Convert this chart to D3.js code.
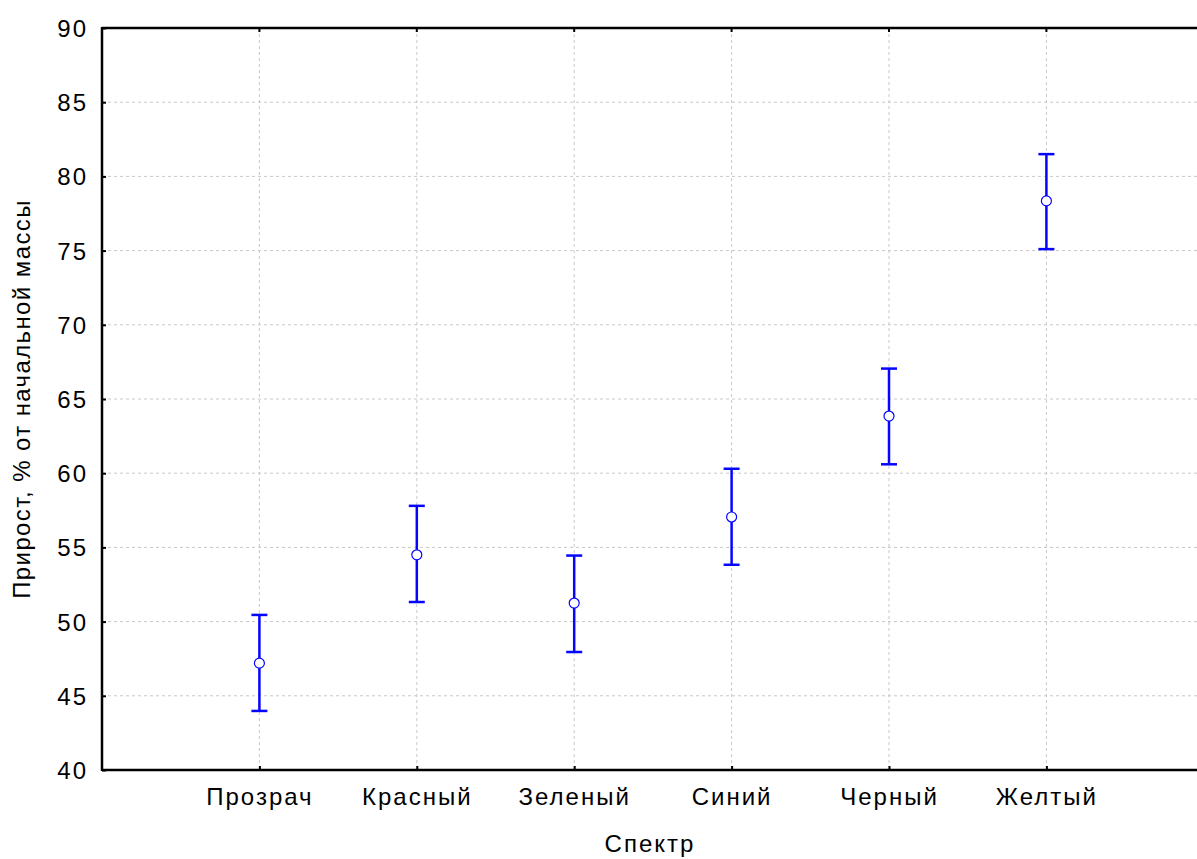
<!DOCTYPE html>
<html><head><meta charset="utf-8">
<script src="https://cdn.jsdelivr.net/npm/d3@7"></script>
<style>body{margin:0;background:#fff}svg{display:block}text{font-family:"Liberation Sans",Arial,sans-serif;fill:#000}</style>
</head><body>
<svg id="c" width="1197" height="859"></svg>
<script>
const categories = ["Прозрач","Красный","Зеленый","Синий","Черный","Желтый"];
const means = [47.2, 54.5, 51.25, 57.05, 63.85, 78.35];
const upper = [50.45, 57.8, 54.45, 60.3, 67.05, 81.5];
const lower = [43.98, 51.32, 47.95, 53.83, 60.6, 75.1];
const yTicks = [40,45,50,55,60,65,70,75,80,85,90];
const xTitle = "Спектр";
const yTitle = "Прирост, % от начальной массы";

const svg = d3.select("#c");
const L = 102, T = 28, B = 770, R = 102 + 7*157.4;
const x = d3.scaleLinear().domain([0,7]).range([L,R]);
const y = d3.scaleLinear().domain([40,90]).range([B,T]);
const blue = "#0505ff";
const FS = 24;

// grid
svg.append("g").selectAll("line").data(yTicks.filter(d=>d>40&&d<90)).join("line")
  .attr("x1",L).attr("x2",R).attr("y1",d=>y(d)).attr("y2",d=>y(d))
  .attr("stroke","#c8c8c8").attr("stroke-width",1).attr("stroke-dasharray","3,3");
svg.append("g").selectAll("line").data(categories).join("line")
  .attr("x1",(d,i)=>x(i+1)).attr("x2",(d,i)=>x(i+1)).attr("y1",T).attr("y2",B)
  .attr("stroke","#c8c8c8").attr("stroke-width",1).attr("stroke-dasharray","3,3");

// axes
const yAxis = d3.axisLeft(y).tickValues(yTicks).tickSizeInner(-4).tickSizeOuter(0).tickPadding(14);
const gy = svg.append("g").attr("transform",`translate(${L},0)`).call(yAxis);
gy.select(".domain").remove();
gy.selectAll(".tick line").attr("stroke","#000").attr("stroke-width",2);
gy.selectAll("text").attr("font-size",FS).style("letter-spacing","2px").attr("dy","0.35em");

const xAxis = d3.axisBottom(x).tickValues(d3.range(1,7)).tickFormat(d=>categories[d-1])
  .tickSizeInner(-4).tickSizeOuter(0).tickPadding(18);
const gx = svg.append("g").attr("transform",`translate(0,${B})`).call(xAxis);
gx.select(".domain").remove();
gx.selectAll(".tick line").attr("stroke","#000").attr("stroke-width",2);
gx.selectAll("text").attr("font-size",FS).style("letter-spacing","2px");

// top ticks
svg.append("g").selectAll("line").data(d3.range(1,7)).join("line")
  .attr("x1",d=>x(d)).attr("x2",d=>x(d)).attr("y1",T).attr("y2",T+4)
  .attr("stroke","#000").attr("stroke-width",2);

// frame
svg.append("line").attr("x1",L).attr("x2",L).attr("y1",T-1).attr("y2",B+1).attr("stroke","#000").attr("stroke-width",2.5);
svg.append("line").attr("x1",L).attr("x2",R).attr("y1",T).attr("y2",T).attr("stroke","#000").attr("stroke-width",2.5);
svg.append("line").attr("x1",L).attr("x2",R).attr("y1",B).attr("y2",B).attr("stroke","#000").attr("stroke-width",2.5);

// error bars
const eb = svg.append("g").selectAll("g").data(categories).join("g");
eb.append("line").attr("x1",(d,i)=>x(i+1)).attr("x2",(d,i)=>x(i+1))
  .attr("y1",(d,i)=>y(upper[i])).attr("y2",(d,i)=>y(lower[i]))
  .attr("stroke",blue).attr("stroke-width",2.5);
eb.append("line").attr("x1",(d,i)=>x(i+1)-8).attr("x2",(d,i)=>x(i+1)+8)
  .attr("y1",(d,i)=>y(upper[i])).attr("y2",(d,i)=>y(upper[i]))
  .attr("stroke",blue).attr("stroke-width",2.5);
eb.append("line").attr("x1",(d,i)=>x(i+1)-8).attr("x2",(d,i)=>x(i+1)+8)
  .attr("y1",(d,i)=>y(lower[i])).attr("y2",(d,i)=>y(lower[i]))
  .attr("stroke",blue).attr("stroke-width",2.5);
eb.append("circle").attr("cx",(d,i)=>x(i+1)).attr("cy",(d,i)=>y(means[i])).attr("r",5)
  .attr("fill","#fff").attr("stroke",blue).attr("stroke-width",1.2);

// titles
svg.append("text").attr("x",650).attr("y",852).attr("text-anchor","middle")
  .attr("font-size",FS).style("letter-spacing","2px").text(xTitle);
svg.append("text").attr("transform","translate(30,399) rotate(-90)").attr("text-anchor","middle")
  .attr("font-size",FS).style("letter-spacing","1.4px").text(yTitle);
</script>
</body></html>
